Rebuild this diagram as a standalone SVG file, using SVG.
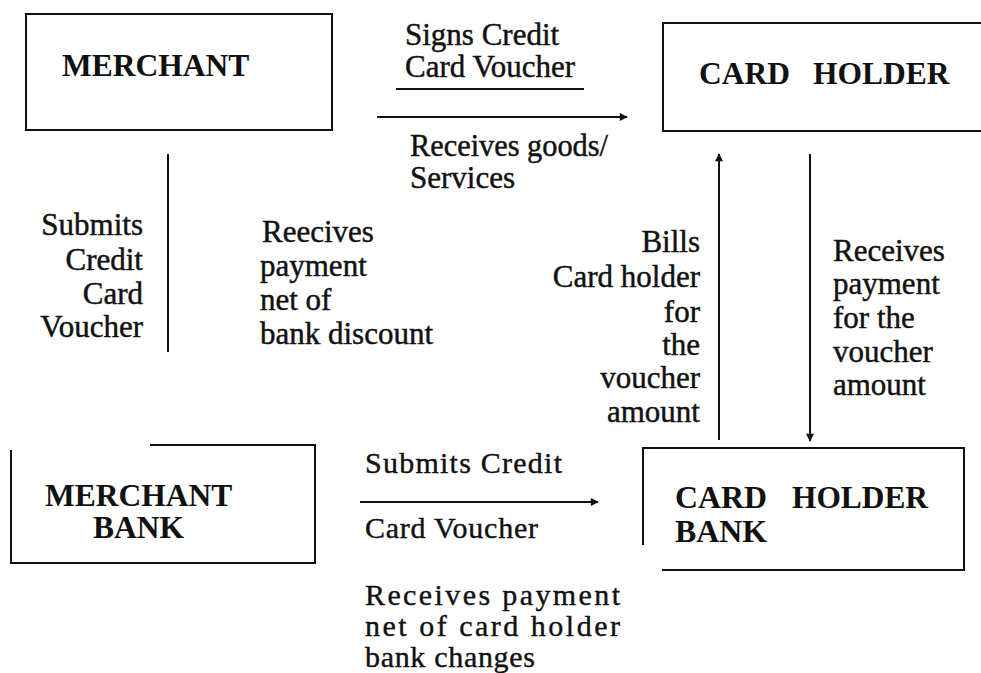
<svg xmlns="http://www.w3.org/2000/svg" width="981" height="673" viewBox="0 0 981 673">
  <defs>
    <style>
      .box { fill: none; stroke: #111; stroke-width: 2; }
      .edge { fill: none; stroke: #111; stroke-width: 2; }
      .lbl { font-family: "Liberation Serif", "Times New Roman", serif; font-size: 31px; fill: #111; stroke: #111; stroke-width: 0.45; }
      .cond { font-family: "Liberation Serif", "Times New Roman", serif; font-size: 30px; fill: #111; stroke: #111; stroke-width: 0.4; }
      .title { font-family: "Liberation Serif", "Times New Roman", serif; font-size: 31.5px; font-weight: bold; fill: #111; }
      .title.sm { font-size: 30.5px; }
      .end { text-anchor: end; }
    </style>
    <marker id="head" viewBox="0 0 10 10" refX="9" refY="5" markerWidth="4.5" markerHeight="4" orient="auto" markerUnits="strokeWidth">
      <path d="M0,0 L10,5 L0,10 z" fill="#111"/>
    </marker>
  </defs>
  <rect width="981" height="673" fill="#fff"/>

  <!-- nodes -->
  <g id="merchant">
    <rect class="box" x="26" y="14" width="306" height="116"/>
    <text class="title" x="62" y="76">MERCHANT</text>
  </g>

  <g id="card-holder">
    <path class="box" d="M984,23 H663 V131 H984"/>
    <text class="title" x="699" y="84">CARD</text>
    <text class="title" x="813" y="84">HOLDER</text>
  </g>

  <g id="merchant-bank">
    <path class="box" d="M150,445 H315 V563 H11 V450"/>
    <text class="title" x="45" y="506">MERCHANT</text>
    <text class="title" x="93" y="538">BANK</text>
  </g>

  <g id="card-holder-bank">
    <path class="box" d="M643,545 V448 H964 V570 H662"/>
    <text class="title sm" x="675" y="508" textLength="92" lengthAdjust="spacingAndGlyphs">CARD</text>
    <text class="title sm" x="792" y="508" textLength="136" lengthAdjust="spacingAndGlyphs">HOLDER</text>
    <text class="title sm" x="675" y="542" textLength="92" lengthAdjust="spacingAndGlyphs">BANK</text>
  </g>

  <!-- connectors -->
  <g id="connectors">
    <!-- merchant to card holder -->
    <line class="edge" x1="396" y1="89" x2="584" y2="89"/>
    <line class="edge" x1="377" y1="117" x2="627" y2="117" marker-end="url(#head)"/>
    <!-- merchant to merchant bank -->
    <line class="edge" x1="168" y1="154" x2="168" y2="352"/>
    <!-- card holder bank to card holder -->
    <line class="edge" x1="719" y1="440" x2="719" y2="154" marker-end="url(#head)"/>
    <!-- card holder to card holder bank -->
    <line class="edge" x1="810" y1="154" x2="810" y2="441" marker-end="url(#head)"/>
    <!-- merchant bank to card holder bank -->
    <line class="edge" x1="360" y1="502" x2="598" y2="502" marker-end="url(#head)"/>
  </g>

  <!-- connector labels -->
  <g id="labels">
    <text class="lbl" x="405" y="45">Signs Credit</text>
    <text class="lbl" x="405" y="77">Card Voucher</text>
    <text class="lbl" x="410" y="156" textLength="198" lengthAdjust="spacingAndGlyphs">Receives goods/</text>
    <text class="lbl" x="410" y="188">Services</text>

    <text class="lbl end" x="143" y="235">Submits</text>
    <text class="lbl end" x="143" y="270">Credit</text>
    <text class="lbl end" x="143" y="304">Card</text>
    <text class="lbl end" x="143" y="337">Voucher</text>

    <text class="lbl" x="262" y="242">Reecives</text>
    <text class="lbl" x="260" y="276">payment</text>
    <text class="lbl" x="260" y="310">net of</text>
    <text class="lbl" x="260" y="344">bank discount</text>

    <text class="lbl end" x="700" y="252">Bills</text>
    <text class="lbl end" x="700" y="287">Card holder</text>
    <text class="lbl end" x="700" y="322">for</text>
    <text class="lbl end" x="700" y="355">the</text>
    <text class="lbl end" x="700" y="388">voucher</text>
    <text class="lbl end" x="700" y="422">amount</text>

    <text class="lbl" x="833" y="261">Receives</text>
    <text class="lbl" x="833" y="294">payment</text>
    <text class="lbl" x="833" y="328">for the</text>
    <text class="lbl" x="833" y="362">voucher</text>
    <text class="lbl" x="833" y="395">amount</text>

    <text class="cond" x="365" y="473" textLength="197">Submits  Credit</text>
    <text class="cond" x="365" y="538" textLength="173">Card Voucher</text>

    <text class="cond" x="365" y="605" textLength="255">Receives  payment</text>
    <text class="cond" x="365" y="636" textLength="255">net of card holder</text>
    <text class="cond" x="365" y="667" textLength="170">bank changes</text>
  </g>
</svg>
